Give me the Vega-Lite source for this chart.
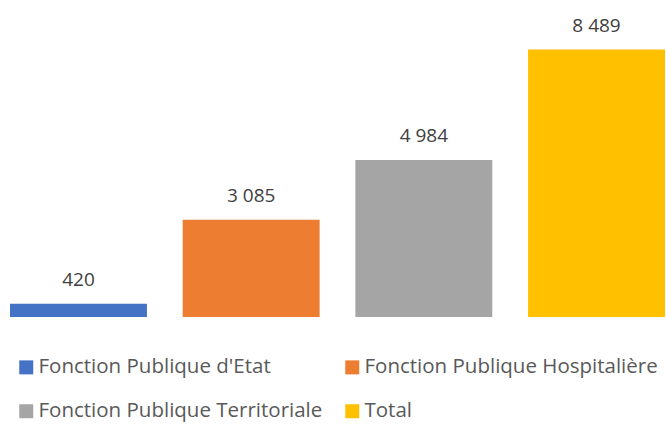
{
  "$schema": "https://vega.github.io/schema/vega-lite/v6.json",
  "width": 655,
  "height": 315,
  "padding": {"left": 10, "top": 2, "right": 0, "bottom": 0},
  "autosize": {"type": "pad"},
  "background": "white",
  "data": {
    "values": [
      {"categorie": "Fonction Publique d'Etat", "valeur": 420},
      {"categorie": "Fonction Publique Hospitalière", "valeur": 3085},
      {"categorie": "Fonction Publique Territoriale", "valeur": 4984},
      {"categorie": "Total", "valeur": 8489}
    ]
  },
  "encoding": {
    "x": {
      "field": "categorie",
      "type": "nominal",
      "sort": null,
      "axis": null,
      "scale": {"paddingInner": 0.207, "paddingOuter": 0}
    },
    "y": {
      "field": "valeur",
      "type": "quantitative",
      "axis": null,
      "scale": {"domain": [0, 10000], "nice": false}
    }
  },
  "layer": [
    {
      "mark": {"type": "bar"},
      "encoding": {
        "color": {
          "field": "categorie",
          "type": "nominal",
          "scale": {
            "domain": ["Fonction Publique d'Etat", "Fonction Publique Hospitalière", "Fonction Publique Territoriale", "Total"],
            "range": ["#4472C4", "#ED7D31", "#A5A5A5", "#FFC000"]
          },
          "legend": {
            "title": null,
            "orient": "none",
            "legendX": 6,
            "legendY": 355,
            "direction": "horizontal",
            "columns": 2,
            "symbolType": "square",
            "symbolSize": 196,
            "symbolStrokeWidth": 0,
            "labelFont": "Open Sans",
            "labelFontSize": 20.5,
            "labelColor": "#595959",
            "labelOffset": 2,
            "labelLimit": 400,
            "rowPadding": 23,
            "columnPadding": 19
          }
        }
      }
    },
    {
      "mark": {"type": "text", "baseline": "alphabetic", "dy": -18, "font": "Open Sans", "fontSize": 19, "color": "#404040"},
      "encoding": {
        "text": {"field": "valeur", "type": "quantitative", "format": ",d"}
      }
    }
  ],
  "config": {
    "view": {"stroke": null},
    "locale": {
      "number": {"decimal": ",", "thousands": " ", "grouping": [3], "currency": ["", " €"]}
    }
  }
}
